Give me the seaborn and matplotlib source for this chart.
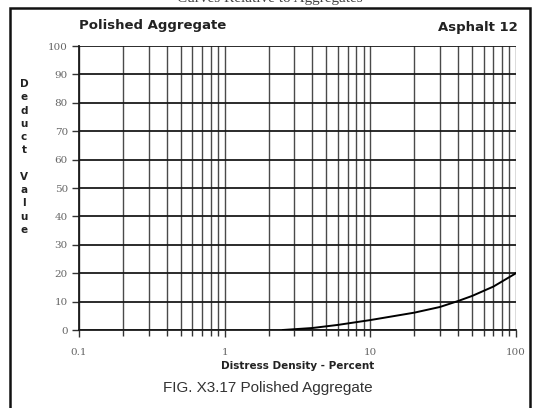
import matplotlib
matplotlib.use("Agg")
import matplotlib.pyplot as plt
from matplotlib.patches import Rectangle
import numpy as np
import pandas as pd
import seaborn as sns

# Deduct value curve for polished aggregate (asphalt)
density = [2.5, 4, 6, 10, 20, 30, 40, 50, 70, 100]
deduct = [0.0, 0.7, 1.8, 3.5, 6.1, 8.1, 10.2, 12.0, 15.3, 20.0]

y_ticks = [0, 10, 20, 30, 40, 50, 60, 70, 80, 90, 100]
x_ticks = [0.1, 1, 10, 100]
x_tick_labels = ["0.1", "1", "10", "100"]

sns.set_theme(style="white")
plt.rcParams["font.family"] = ["DejaVu Sans"]

fig = plt.figure(figsize=(5.33, 4.08), dpi=100)
ax = fig.add_axes([79 / 533, 1 - 330 / 408, (516 - 79) / 533, (330 - 46) / 408])

df = pd.DataFrame({"density": density, "deduct": deduct})

# vertical grid at every log-cycle division
minor = [m * 10.0 ** e for e in (-1, 0, 1) for m in range(1, 10)] + [100]
for xv in minor:
    ax.axvline(xv, color="#4a4a4a", lw=1.0, zorder=1)
for yv in y_ticks:
    ax.axhline(yv, color="#1a1a1a", lw=1.3, zorder=1)

sns.lineplot(data=df, x="density", y="deduct", ax=ax, color="black", lw=1.4, zorder=3)

ax.set_xscale("log")
ax.set_xlim(0.1, 100)
ax.set_ylim(0, 100)
ax.set_xticks(x_ticks)
ax.set_xticklabels(x_tick_labels)
ax.set_xticks(minor, minor=True)
ax.xaxis.set_minor_formatter(matplotlib.ticker.NullFormatter())
ax.set_yticks(y_ticks)

for side in ("top", "right"):
    ax.spines[side].set_visible(False)
ax.spines["left"].set_color("#1a1a1a")
ax.spines["left"].set_linewidth(1.3)
ax.spines["bottom"].set_color("#1a1a1a")
ax.spines["bottom"].set_linewidth(1.3)

ax.tick_params(axis="both", which="both", direction="out", length=5, width=1.0,
               color="#333333", labelcolor="#666666", labelsize=7.5, pad=3,
               bottom=True, left=True)
ax.tick_params(axis="x", which="minor", length=4)
ax.tick_params(axis="x", which="major", pad=8)
for lbl in ax.get_xticklabels() + ax.get_yticklabels():
    lbl.set_family("DejaVu Serif")

ax.set_xlabel("")
ax.set_ylabel("")

# chart captions
fig.text(79 / 533, 1 - 25 / 408, "Polished Aggregate", fontsize=9.5, fontweight="bold",
         color="#222222", ha="left", va="center")
fig.text(518 / 533, 1 - 27 / 408, "Asphalt 12", fontsize=9.5, fontweight="bold",
         color="#222222", ha="right", va="center")
fig.text(24 / 533, 1 - 157 / 408, "\n".join("Deduct Value"), fontsize=7.5,
         fontweight="bold", color="#222222", ha="center", va="center", linespacing=1.41)
fig.text(298 / 533, 1 - 366 / 408, "Distress Density - Percent", fontsize=7.5,
         fontweight="bold", color="#222222", ha="center", va="center")
fig.text(268 / 533, 1 - 388 / 408, "FIG. X3.17 Polished Aggregate", fontsize=11,
         color="#333333", ha="center", va="center", family="Liberation Sans")
fig.text(270 / 533, 1 - 2 / 408, "Curves Relative to Aggregates", fontsize=11,
         color="#444444", ha="center", va="baseline", family="Liberation Serif")

# outer frame
fig.patches.append(Rectangle((10 / 533, -0.02), (530 - 10) / 533, 1.02 - 8 / 408,
                             transform=fig.transFigure, fill=False,
                             edgecolor="#111111", lw=1.8))

fig.savefig("out.png", dpi=100)
